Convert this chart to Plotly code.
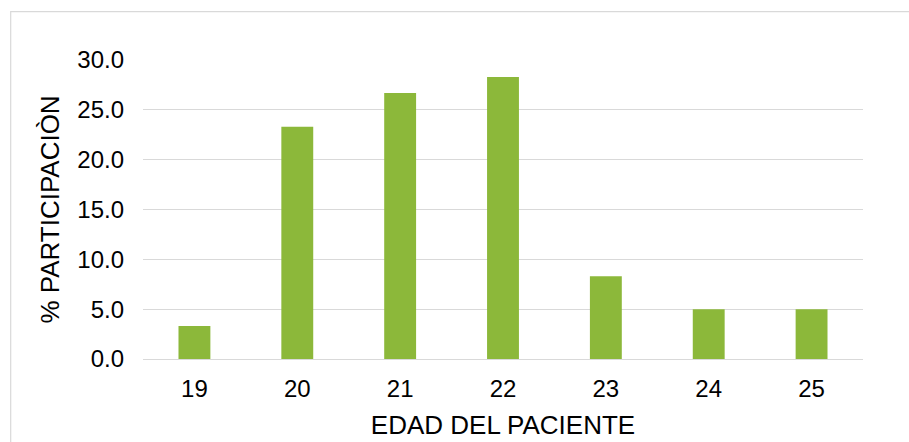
import plotly.graph_objects as go

# Patient age distribution (% of participants)
edades = ["19", "20", "21", "22", "23", "24", "25"]
participacion = [3.3, 23.3, 26.7, 28.3, 8.3, 5.0, 5.0]

W, H = 909, 442
ML, MR, MT, MB = 142.5, 45.5, 60, 82.5
pw, ph = W - ML - MR, H - MT - MB

fig = go.Figure(
    go.Bar(
        x=edades,
        y=participacion,
        marker=dict(color="#8CB83A", line=dict(width=0)),
        width=0.31,
    )
)

font = "Liberation Sans, Arial, sans-serif"
grid = "#D9D9D9"

fig.update_layout(
    width=W,
    height=H,
    margin=dict(l=ML, r=MR, t=MT, b=MB, pad=0),
    paper_bgcolor="white",
    plot_bgcolor="white",
    showlegend=False,
    font=dict(family=font, color="#000000"),
    bargap=0.69,
)

fig.update_xaxes(
    type="category",
    automargin=False,
    showgrid=False,
    showline=True,
    linecolor=grid,
    linewidth=1.3,
    ticks="",
    tickfont=dict(size=24, family=font, color="#000000"),
    ticklabelstandoff=8,
    title=dict(text="EDAD DEL PACIENTE", font=dict(size=26, family=font, color="#000000"), standoff=14),
)

fig.update_yaxes(
    range=[0, 30],
    automargin=False,
    tick0=0,
    dtick=5,
    tickformat=".1f",
    showgrid=True,
    gridcolor=grid,
    gridwidth=1.3,
    zeroline=False,
    showline=False,
    ticks="",
    tickfont=dict(size=24, family=font, color="#000000"),
    ticklabelstandoff=18,
    title=dict(text="% PARTICIPACIÒN", font=dict(size=26, family=font, color="#000000"), standoff=10),
)

# Light outer frame of the chart area
fig.add_shape(
    type="rect",
    xref="paper",
    yref="paper",
    x0=(10 - ML) / pw,
    x1=(W + 20 - ML) / pw,
    y0=-(MB + 20) / ph,
    y1=(H - MB - 11.5) / ph,
    line=dict(color=grid, width=1.2),
    fillcolor="rgba(0,0,0,0)",
    layer="below",
)

fig.write_html("out.html")
